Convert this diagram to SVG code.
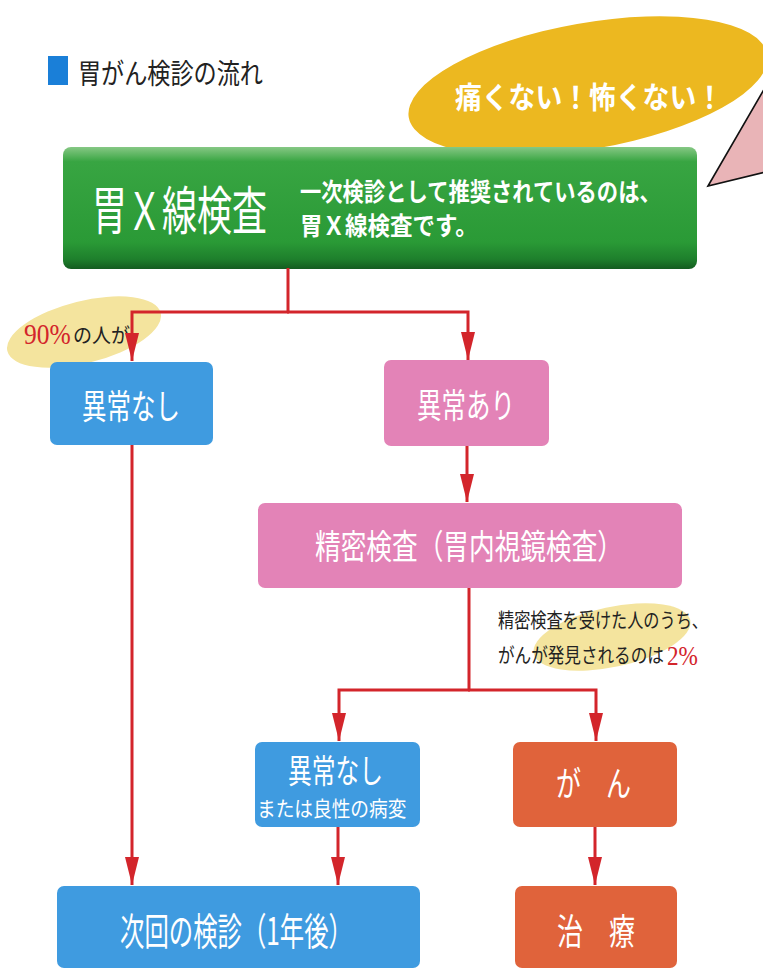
<svg xmlns="http://www.w3.org/2000/svg" width="763" height="969" viewBox="0 0 763 969">
<style>
.jp{font-family:"Noto Sans CJK JP","Noto Sans",sans-serif;}
.wt{fill:#ffffff;}
.bold{font-weight:bold;}
.blue{fill:#3F9BE0;}
.pink{fill:#E383B7;}
.orange{fill:#E0633B;}
.conn{fill:none;stroke:#D3252B;stroke-width:3;}
.serif{font-family:"Liberation Serif","DejaVu Serif",serif;fill:#D3252B;}
</style>
<defs>
<linearGradient id="gGreen" x1="0" y1="0" x2="0" y2="1">
<stop offset="0" stop-color="#86C884"/>
<stop offset="0.12" stop-color="#38A542"/>
<stop offset="0.78" stop-color="#2A9A36"/>
<stop offset="0.92" stop-color="#1E7F2C"/>
<stop offset="1" stop-color="#145C20"/>
</linearGradient>
<marker id="arr" viewBox="0 0 28 14" refX="28" refY="7" markerWidth="28" markerHeight="14" markerUnits="userSpaceOnUse" orient="auto">
<path d="M0,0 L28,7 L0,14 z" fill="#D3252B"/>
</marker>
</defs>
<rect width="763" height="969" fill="#ffffff"/>

<g id="title">
<rect x="48" y="56" width="20" height="29" fill="#1A7FD8"/>
<text class="jp" x="78" y="84" font-size="28" fill="#222" textLength="185" lengthAdjust="spacingAndGlyphs">胃がん検診の流れ</text>
</g>

<g id="callout">
<ellipse cx="588" cy="86" rx="182" ry="63" transform="rotate(-10 588 86)" fill="#ECB820"/>
<text class="jp wt bold" x="455" y="108" font-size="30" textLength="268" lengthAdjust="spacingAndGlyphs">痛くない！怖くない！</text>
</g>

<g id="pointer">
<polygon points="708,186 770,79 770,171" fill="#E9B4B7" stroke="#111" stroke-width="1.6"/>
</g>

<g id="xray">
<rect x="63" y="147" width="634" height="122" rx="8" fill="url(#gGreen)"/>
<text class="jp wt" transform="translate(92,230) scale(0.673,1)" font-size="52">胃Ｘ線検査</text>
<text class="jp wt bold" transform="translate(300,201) scale(0.852,1)" font-size="25">一次検診として推奨されているのは、</text>
<text class="jp wt bold" transform="translate(300,235) scale(0.9,1)" font-size="25">胃Ｘ線検査です。</text>
</g>

<g id="label90">
<ellipse cx="84" cy="332" rx="79" ry="31" transform="rotate(-14 84 332)" fill="#F4E49E"/>
<text class="serif" transform="translate(24,344) scale(0.85,1)" font-size="30">90%</text>
<text class="jp" transform="translate(73,343) scale(0.95,1)" font-size="20" fill="#222">の人が</text>
</g>

<g id="connectors">
<path class="conn" d="M288,268 V312"/>
<path class="conn" d="M289,312 H132 V361" marker-end="url(#arr)"/>
<path class="conn" d="M287,312 H468 V360" marker-end="url(#arr)"/>
<path class="conn" d="M467,446 V502" marker-end="url(#arr)"/>
<path class="conn" d="M469,588 V690"/>
<path class="conn" d="M470,690 H339 V741" marker-end="url(#arr)"/>
<path class="conn" d="M468,690 H596 V741" marker-end="url(#arr)"/>
<path class="conn" d="M132,445 V885" marker-end="url(#arr)"/>
<path class="conn" d="M338,827 V885" marker-end="url(#arr)"/>
<path class="conn" d="M595,827 V885" marker-end="url(#arr)"/>
</g>

<g id="normal1">
<rect class="blue" x="50" y="362" width="163" height="83" rx="7"/>
<text class="jp wt" x="82" y="419" font-size="34" textLength="98" lengthAdjust="spacingAndGlyphs">異常なし</text>
</g>

<g id="abnormal">
<rect class="pink" x="384" y="360" width="165" height="86" rx="7"/>
<text class="jp wt" x="417" y="418" font-size="34" textLength="98" lengthAdjust="spacingAndGlyphs">異常あり</text>
</g>

<g id="detail">
<rect class="pink" x="258" y="503" width="424" height="85" rx="7"/>
<text class="jp wt" x="315" y="559" font-size="34" textLength="308" lengthAdjust="spacingAndGlyphs">精密検査（胃内視鏡検査）</text>
</g>

<g id="note2">
<ellipse cx="612" cy="637" rx="80" ry="30" transform="rotate(-12 612 637)" fill="#F4E49E"/>
<text class="jp" transform="translate(498,628) scale(0.808,1)" font-size="20" fill="#222">精密検査を受けた人のうち、</text>
<text class="jp" transform="translate(498,663) scale(0.83,1)" font-size="20" fill="#222">がんが発見されるのは</text>
<text class="serif" transform="translate(667,665) scale(0.83,1)" font-size="28">2%</text>
</g>

<g id="normal2">
<rect class="blue" x="255" y="742" width="165" height="85" rx="7"/>
<text class="jp wt" transform="translate(288,783) scale(0.72,1)" font-size="33">異常なし</text>
<text class="jp wt" transform="translate(257,816) scale(0.89,1)" font-size="21">または良性の病変</text>
</g>

<g id="cancer">
<rect class="orange" x="513" y="742" width="164" height="85" rx="7"/>
<text class="jp wt" x="556" y="796" font-size="34" textLength="75" lengthAdjust="spacingAndGlyphs">が　ん</text>
</g>

<g id="next">
<rect class="blue" x="57" y="886" width="363" height="82" rx="7"/>
<text class="jp wt" x="120" y="945" font-size="38" textLength="233" lengthAdjust="spacingAndGlyphs">次回の検診（1年後）</text>
</g>

<g id="treatment">
<rect class="orange" x="515" y="886" width="162" height="82" rx="7"/>
<text class="jp wt" x="557" y="945" font-size="36" textLength="78" lengthAdjust="spacingAndGlyphs">治　療</text>
</g>
</svg>
